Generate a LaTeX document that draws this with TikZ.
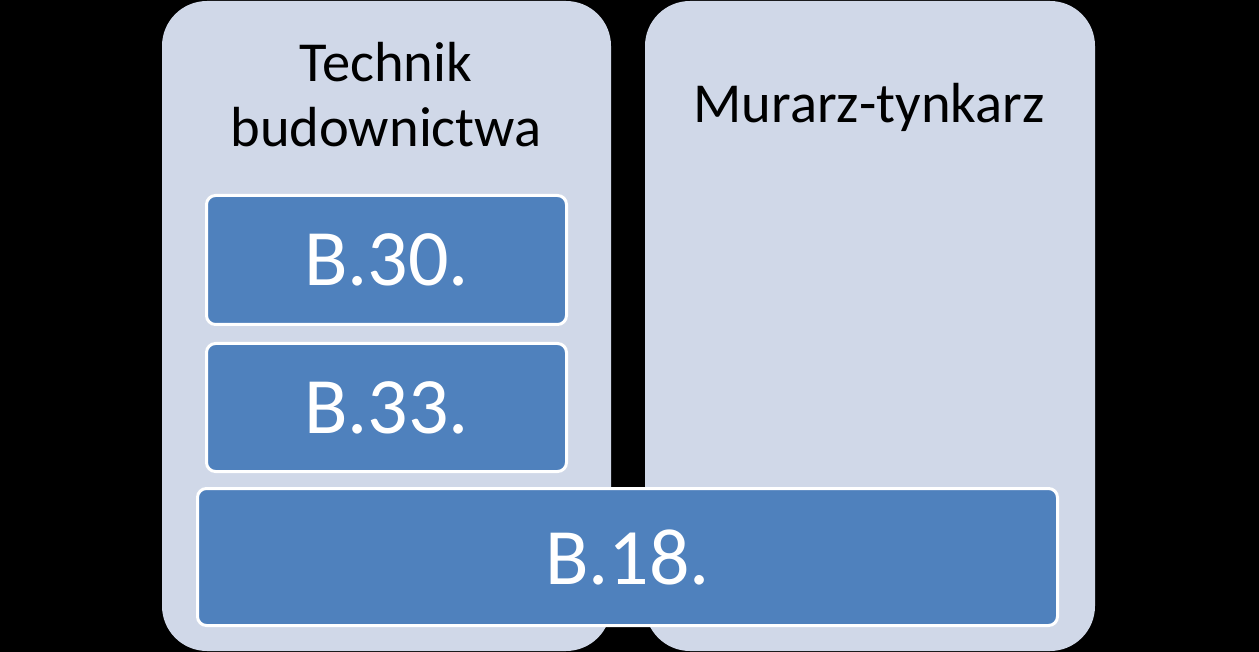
\documentclass[tikz,border=0pt]{standalone}
\usepackage{fontspec}
\setmainfont{Carlito}
\definecolor{panel}{HTML}{D0D8E8}
\definecolor{tile}{HTML}{4F81BD}
\begin{document}
\begin{tikzpicture}[x=1pt,y=-1pt,
  panelbox/.style={fill=panel, rounded corners=45pt, inner sep=0pt, minimum width=449pt, minimum height=650pt},
  tilebox/.style={fill=tile, draw=white, line width=3pt, rounded corners=9pt, text=white,
    font=\fontsize{80}{80}\selectfont, inner sep=0pt},
  headtxt/.style={font=\fontsize{56.5}{65}\selectfont, anchor=base, inner sep=0pt, text=black}]
\fill[black] (0,0) rectangle (1259,652);
\useasboundingbox (0,0) rectangle (1259,652);
\node[panelbox] (left) at (386.5,326) {};
\node[panelbox, minimum width=450pt] (right) at (870,326) {};
\node[headtxt] (tech1) at (386,82) {Technik};
\node[headtxt] (tech2) at (386,147) {budownictwa};
\node[headtxt] (murarz) at (869,123) {Murarz-tynkarz};
\node[tilebox, minimum width=360pt, minimum height=129pt] (b30) at (386.5,260) {B.30.};
\node[tilebox, minimum width=360pt, minimum height=128pt] (b33) at (386.5,407.5) {B.33.};
\node[tilebox, minimum width=860pt, minimum height=137pt] (b18) at (627.5,557) {B.18.};
\end{tikzpicture}
\end{document}
